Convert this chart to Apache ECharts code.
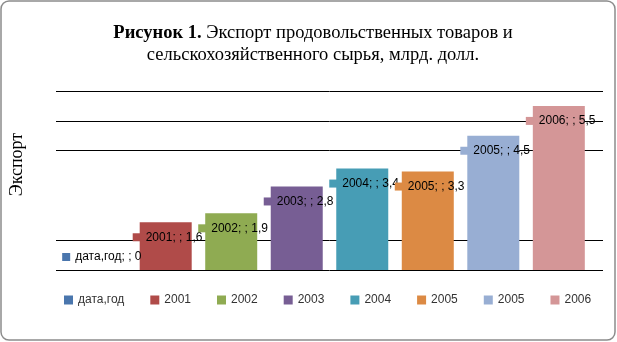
<!DOCTYPE html>
<html>
<head>
<meta charset="utf-8">
<script src="https://cdn.jsdelivr.net/npm/echarts@6/dist/echarts.min.js"></script>
<style>html,body{margin:0;padding:0;background:#fff}#c{width:617px;height:342px}</style>
</head>
<body>
<div id="c"></div>
<script>
var seriesNames = ['дата,год', '2001', '2002', '2003', '2004', '2005', '2005', '2006'];
var seriesValues = [0, 1.6, 1.9, 2.8, 3.4, 3.3, 4.5, 5.5];
var seriesColors = ['#4a76ad', '#b04b49', '#8fab52', '#775e94', '#479db5', '#dc8a44', '#98aed3', '#d49697'];
var gridValues = [0, 1, 4, 5, 6];
var yMin = 0, yMax = 6, yStep = 1;

var chart = echarts.init(document.getElementById('c'), null, {renderer: 'canvas'});

// unique internal names (duplicate "2005" label) using zero-width space
var uniqueNames = seriesNames.map(function (n, i) {
  var dupCount = seriesNames.slice(0, i).filter(function (m) { return m === n; }).length;
  return n + new Array(dupCount + 1).join('\u200B');
});

var series = seriesValues.map(function (v, i) {
  var s = {
    name: uniqueNames[i],
    type: 'bar',
    z: 2,
    barWidth: 52,
    barGap: '26%',
    itemStyle: {color: seriesColors[i]},
    data: [v],
    label: {
      show: true,
      position: v === 0 ? [-12, -19] : [-7, 9],
      formatter: function (p) {
        return '{k|}{t|' + seriesNames[i] + '; ; ' + String(p.value).replace('.', ',') + '}';
      },
      rich: {
        k: {width: 8, height: 8, backgroundColor: seriesColors[i]},
        t: {fontFamily: 'Liberation Sans', fontSize: 12, color: '#000', padding: [0, 0, 0, 5]}
      }
    }
  };
  if (i === 0) {
    s.markLine = {
      silent: true,
      symbol: 'none',
      z: 1,
      label: {show: false},
      lineStyle: {color: '#000', width: 1, type: 'solid'},
      data: gridValues.map(function (g) { return {yAxis: g}; })
    };
  }
  return s;
});

chart.setOption({
  animation: false,
  backgroundColor: '#fff',
  title: {
    left: 308,
    top: 17,
    textAlign: 'center',
    text: '{b|Рисунок 1.}{n| Экспорт продовольственных товаров и}\n{n|сельскохозяйственного сырья, млрд. долл.}',
    textStyle: {
      rich: {
        b: {fontFamily: 'Liberation Serif', fontSize: 18.5, fontWeight: 'bold', color: '#000', lineHeight: 22},
        n: {fontFamily: 'Liberation Serif', fontSize: 18.5, fontWeight: 'normal', color: '#000', lineHeight: 22}
      }
    }
  },
  legend: {
    left: 59,
    top: 289,
    icon: 'rect',
    itemWidth: 9,
    itemHeight: 9,
    itemGap: 26,
    textStyle: {fontFamily: 'Liberation Sans', fontSize: 12, color: '#333'},
    data: uniqueNames
  },
  grid: {left: 54, right: 14, top: 91, bottom: 72},
  xAxis: {
    type: 'category',
    data: [''],
    axisLine: {show: false},
    axisTick: {show: false},
    axisLabel: {show: false}
  },
  yAxis: {
    type: 'value',
    min: yMin,
    max: yMax,
    interval: yStep,
    name: 'Экспорт',
    nameLocation: 'middle',
    nameRotate: 90,
    nameGap: 30,
    nameTextStyle: {fontFamily: 'Liberation Serif', fontSize: 18, color: '#000', padding: [0, 0, 0, 32]},
    axisLine: {show: false},
    axisTick: {show: false},
    axisLabel: {show: false},
    splitLine: {show: false}
  },
  graphic: [{
    type: 'rect',
    shape: {x: 1, y: 1, width: 614, height: 339, r: 8},
    style: {fill: 'none', stroke: '#8c8c8c', lineWidth: 1.5},
    silent: true,
    z: 0
  }],
  series: series
});
</script>
</body>
</html>
